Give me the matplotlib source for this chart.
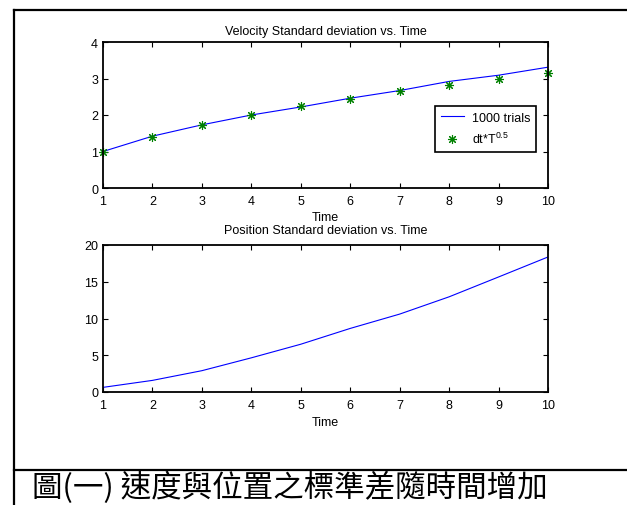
import matplotlib
matplotlib.use("Agg")
import matplotlib.pyplot as plt
from matplotlib.lines import Line2D

plt.rcParams['font.family'] = ['Liberation Sans', 'DejaVu Sans']
plt.rcParams['mathtext.fontset'] = 'custom'
plt.rcParams['mathtext.rm'] = 'Liberation Sans'
plt.rcParams['mathtext.it'] = 'Liberation Sans:italic'

# ---- data ----
time = [1, 2, 3, 4, 5, 6, 7, 8, 9, 10]
vel_std_trials = [1.0, 1.42, 1.73, 2.0, 2.22, 2.46, 2.67, 2.92, 3.09, 3.31]
vel_std_theory = [1.0, 1.41, 1.73, 2.0, 2.24, 2.45, 2.65, 2.83, 3.0, 3.16]
pos_std_trials = [0.63, 1.58, 2.9, 4.65, 6.5, 8.65, 10.6, 12.95, 15.65, 18.37]

vel_yticks = [0, 1, 2, 3, 4]
pos_yticks = [0, 5, 10, 15, 20]
xticks = time

title_vel = "Velocity Standard deviation vs. Time"
title_pos = "Position Standard deviation vs. Time"
xlabel = "Time"
legend_labels = ["1000 trials", r"dt*T$^{0.5}$"]
caption = "圖(一) 速度與位置之標準差隨時間增加"

W, H = 627, 506
fig = plt.figure(figsize=(W / 100, H / 100), dpi=100)

def ax_rect(l, r, t, b):
    return [l / W, 1 - b / H, (r - l) / W, (b - t) / H]

FS = 9
blue = (0, 0, 1)
green = (0, 0.5, 0)

def style(ax, yt, ymax):
    ax.set_xlim(1, 10)
    ax.set_ylim(0, ymax)
    ax.set_xticks(xticks)
    ax.set_yticks(yt)
    ax.tick_params(direction='in', top=True, right=True, length=3.5, width=0.8,
                   labelsize=FS, color='black')
    ax.tick_params(axis='x', pad=5.0)
    ax.tick_params(axis='y', pad=3.5)
    for s in ax.spines.values():
        s.set_linewidth(1.3)

ax1 = fig.add_axes(ax_rect(103, 548, 43, 189))
l1, = ax1.plot(time, vel_std_trials, color=blue, lw=0.8)
p1, = ax1.plot(time, vel_std_theory, linestyle='none', marker=(8, 2, 0),
               markersize=6.5, markeredgewidth=0.8, color=green, clip_on=False)
style(ax1, vel_yticks, 4)
ax1.set_title(title_vel, fontsize=FS, y=1.075, va='center', pad=0)
ax1.set_xlabel(xlabel, fontsize=FS)
ax1.xaxis.set_label_coords(0.5, -0.20)
ax1.xaxis.label.set_va('center')
leg = ax1.legend([l1, p1], legend_labels, loc='upper right',
                 bbox_to_anchor=(0.973, 0.562), fontsize=FS, fancybox=False,
                 framealpha=1, edgecolor='black', handlelength=1.85,
                 borderpad=0.45, labelspacing=0.6, handletextpad=0.65,
                 borderaxespad=0)
leg.get_frame().set_linewidth(1.2)

ax2 = fig.add_axes(ax_rect(103, 548, 246, 393))
ax2.plot(time, pos_std_trials, color=blue, lw=0.8)
style(ax2, pos_yticks, 20)
ax2.set_title(title_pos, fontsize=FS, y=1.10, va='center', pad=0)
ax2.set_xlabel(xlabel, fontsize=FS)
ax2.xaxis.set_label_coords(0.5, -0.204)
ax2.xaxis.label.set_va('center')

# outer frame
lw_box = 1.6
fig.add_artist(Line2D([14 / W, 1.0], [1 - 10.5 / H, 1 - 10.5 / H],
                      color='black', lw=lw_box, transform=fig.transFigure))
fig.add_artist(Line2D([14 / W, 14 / W], [1 - 10.5 / H, 0.0],
                      color='black', lw=lw_box, transform=fig.transFigure))
fig.add_artist(Line2D([14 / W, 1.0], [1 - 471 / H, 1 - 471 / H],
                      color='black', lw=lw_box, transform=fig.transFigure))

fig.text(32 / W, 1 - 488 / H, caption, fontsize=22, va='center', ha='left',
         family=['Noto Sans CJK TC', 'DejaVu Sans'], color='black')

fig.savefig("out.png", dpi=100)
